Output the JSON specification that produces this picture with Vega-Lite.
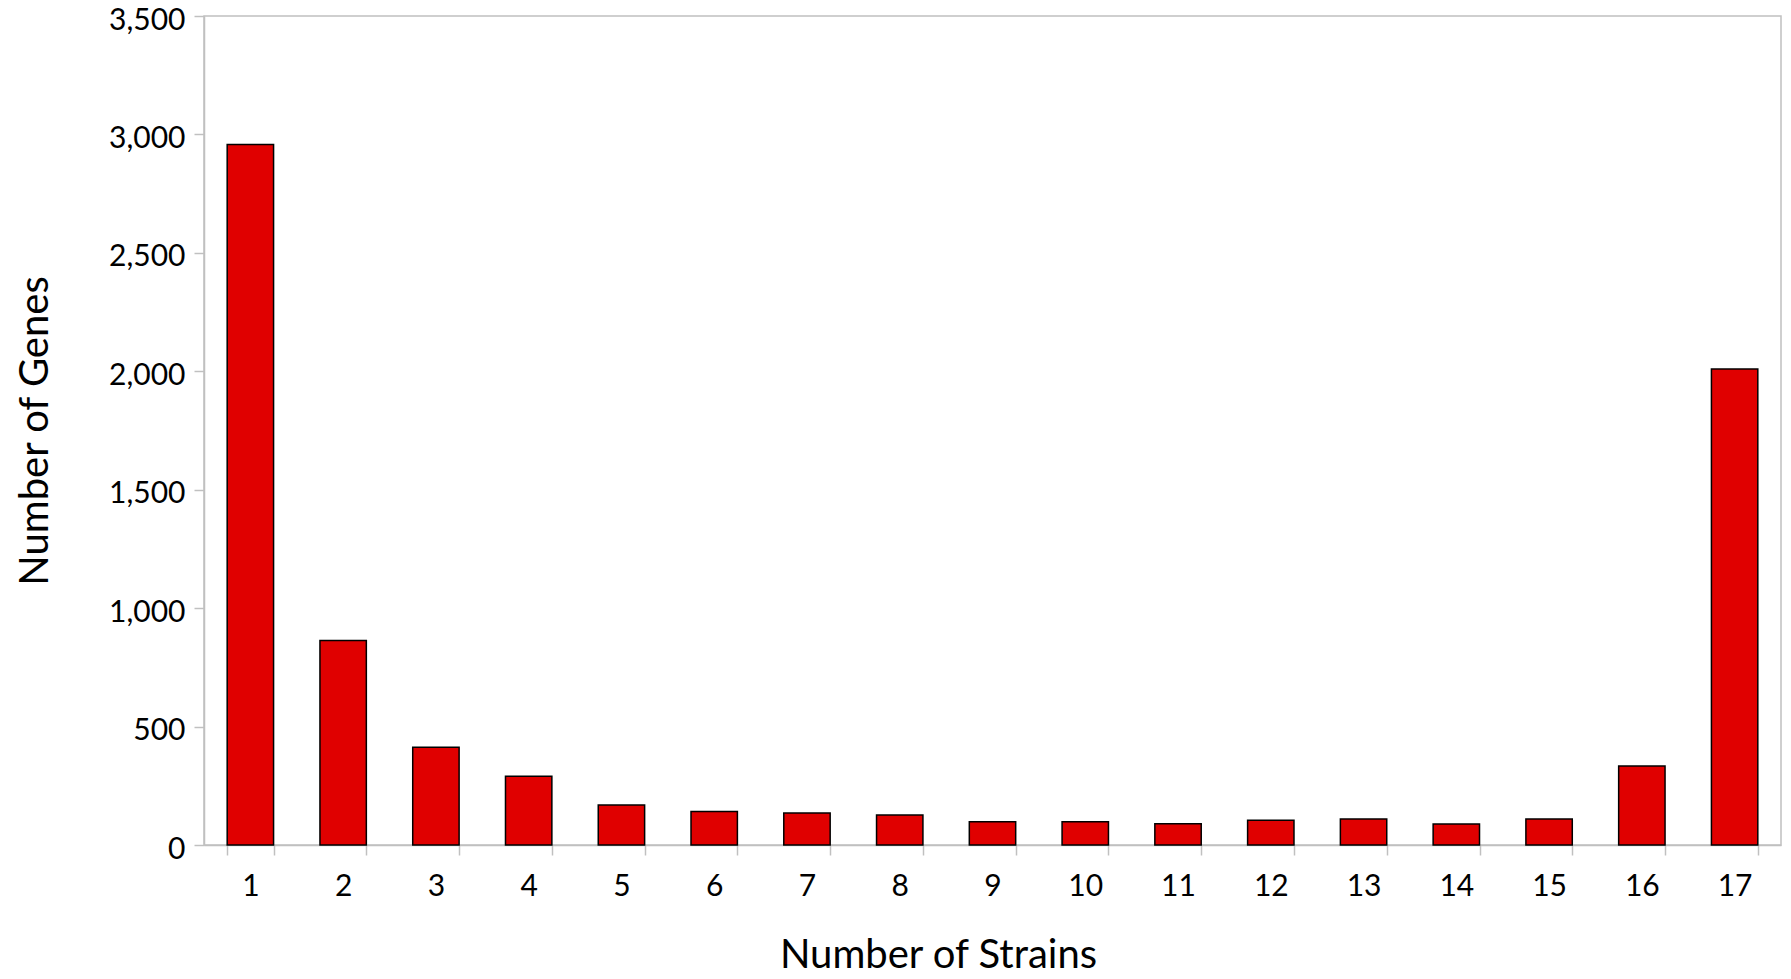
{
  "$schema": "https://vega.github.io/schema/vega-lite/v6.json",
  "autosize": {"type": "none"},
  "width": 1577,
  "height": 829,
  "padding": {"left": 204, "top": 16, "right": 10, "bottom": 134},
  "background": "white",
  "config": {
    "font": "Lato",
    "view": {"stroke": "#c0c0c0", "strokeWidth": 1.5},
    "axis": {"grid": false, "domainColor": "#c0c0c0", "domainWidth": 1.5, "tickColor": "#c0c0c0", "tickWidth": 1.5, "tickSize": 10, "labelColor": "black", "titleColor": "black", "labelFont": "Lato", "titleFont": "Lato", "titleFontWeight": "normal", "labelFontSize": 30, "titleFontSize": 40}
  },
  "data": {
    "values": [
      {"strains": 1, "genes": 2958},
      {"strains": 2, "genes": 863},
      {"strains": 3, "genes": 413},
      {"strains": 4, "genes": 290},
      {"strains": 5, "genes": 169},
      {"strains": 6, "genes": 141},
      {"strains": 7, "genes": 135},
      {"strains": 8, "genes": 127},
      {"strains": 9, "genes": 98},
      {"strains": 10, "genes": 98},
      {"strains": 11, "genes": 90},
      {"strains": 12, "genes": 104},
      {"strains": 13, "genes": 110},
      {"strains": 14, "genes": 89},
      {"strains": 15, "genes": 110},
      {"strains": 16, "genes": 334},
      {"strains": 17, "genes": 2010}
    ]
  },
  "mark": {"type": "bar", "color": "#e00000", "stroke": "black", "strokeWidth": 1.5},
  "encoding": {
    "x": {
      "field": "strains", "type": "ordinal", "title": "Number of Strains",
      "scale": {"paddingInner": 0.5, "paddingOuter": 0.25},
      "axis": {"labelAngle": 0, "tickBand": "extent", "labelPadding": 16, "titlePadding": 34, "titleX": 734}
    },
    "y": {
      "field": "genes", "type": "quantitative", "title": "Number of Genes",
      "scale": {"domain": [0, 3500]},
      "axis": {"values": [0, 500, 1000, 1500, 2000, 2500, 3000, 3500], "format": ",d", "labelPadding": 9, "labelOffset": 4, "titlePadding": 53}
    }
  }
}
